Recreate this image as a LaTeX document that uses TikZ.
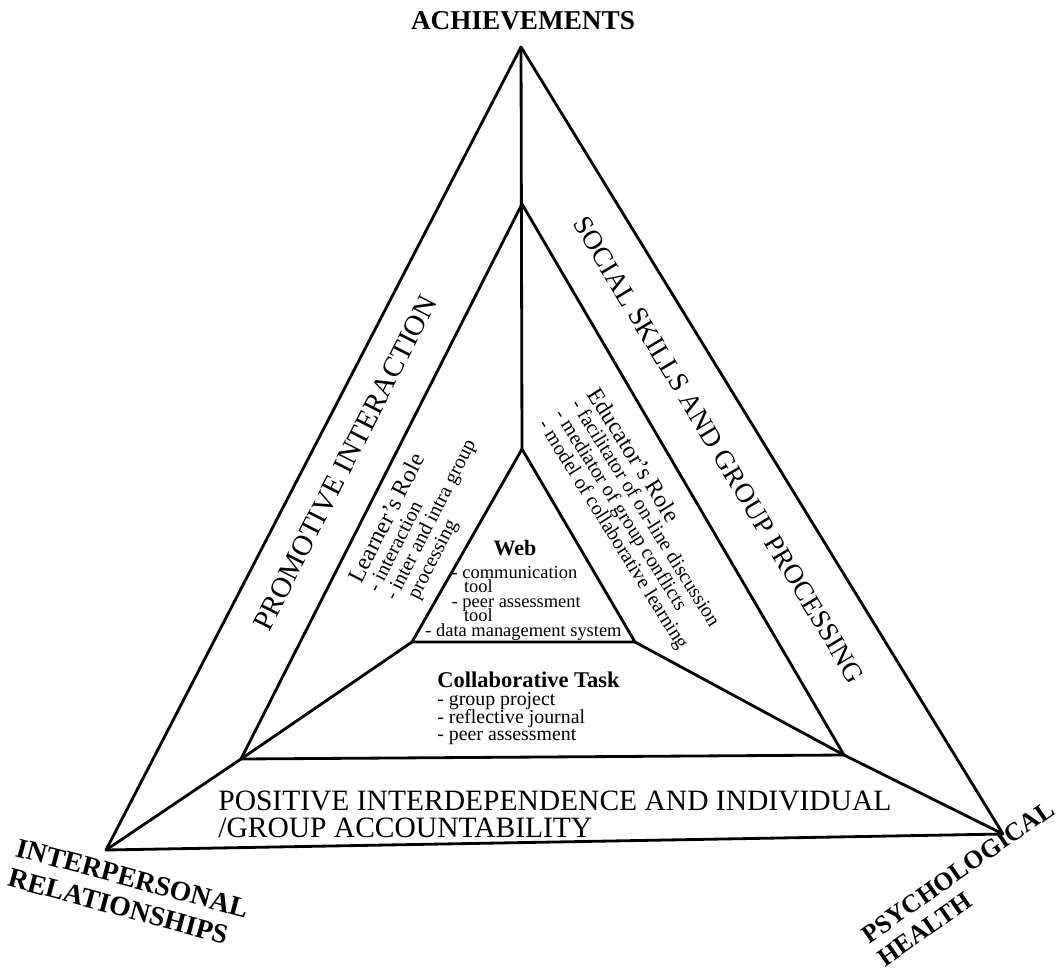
\documentclass[tikz,border=0pt]{standalone}
\usepackage{fontspec}
\setmainfont{Liberation Serif}
\usetikzlibrary{positioning}
\definecolor{Ink}{HTML}{000000}
\tikzset{
  edge/.style={draw=Ink, line width=1.6pt, line join=round},
  corner/.style={inner sep=0pt, align=left, text=Ink, font={\fontsize{15}{17.5}\selectfont\bfseries}},
  band/.style={inner sep=0pt, align=left, text=Ink, font={\fontsize{16.8}{15}\selectfont}},
  role/.style={inner sep=0pt, align=left, text=Ink, font={\fontsize{11.5}{11}\selectfont\lineskiplimit=-20pt}},
  toollist/.style={inner sep=0pt, align=left, text=Ink, font={\fontsize{10.5}{8.2}\selectfont\lineskiplimit=-20pt}},
}
\newcommand{\rolehead}[1]{{\fontsize{13.5}{12}\selectfont #1}}
\begin{document}
\begin{tikzpicture}[x=0.02cm, y=-0.02cm]
  \useasboundingbox (0,0) rectangle (1062,974);
  % triangle corners
  \coordinate (A) at (521,47);
  \coordinate (B) at (106,850);
  \coordinate (C) at (1003,834);
  \coordinate (M1) at (522,204);
  \coordinate (M2) at (241,759);
  \coordinate (M3) at (844,755);
  \coordinate (W1) at (522,449);
  \coordinate (W2) at (412,642);
  \coordinate (W3) at (635,642);
  % frames
  \draw[edge] (A) -- (B) -- (C) -- cycle;
  \draw[edge] (M1) -- (M2) -- (M3) -- cycle;
  \draw[edge] (W1) -- (W2) -- (W3) -- cycle;
  \draw[edge] (A) -- (W1);
  \draw[edge] (B) -- (M2) -- (W2);
  \draw[edge] (C) -- (M3) -- (W3);
  % outcomes
  \node[corner, font={\fontsize{15.5}{17}\selectfont\bfseries}] (achieve) at (523,21) {ACHIEVEMENTS};
  \node[corner, font={\fontsize{15.8}{17.5}\selectfont\bfseries}, rotate=-15, anchor=north west] (interp) at (19,838) {INTERPERSONAL\\RELATIONSHIPS};
  \node[corner, font={\fontsize{14.6}{16}\selectfont\bfseries}, rotate=35, anchor=north west] (psych) at (859,930) {PSYCHOLOGICAL\\HEALTH};
  % elements
  \node[band, font={\fontsize{16.5}{15}\selectfont}, rotate=63] (promo) at (345,463) {PROMOTIVE INTERACTION};
  \node[band, font={\fontsize{15.6}{15}\selectfont}, rotate=-59] (social) at (719,450) {SOCIAL SKILLS AND GROUP PROCESSING};
  \node[band, anchor=north west] (posit) at (218,791) {POSITIVE INTERDEPENDENCE AND INDIVIDUAL\\/GROUP ACCOUNTABILITY};
  % roles
  \node[role, rotate=63, anchor=north west] (learner) at (346,577)
    {\rolehead{Learner's Role}\\- interaction\\- inter and intra group\\\phantom{- }processing};
  \node[role, rotate=-58, anchor=north west] (educator) at (601,385)
    {\rolehead{Educator's Role}\\- facilitator of on-line discussion\\- mediator of group conflicts\\- model of collaborative learning};
  % web and task
  \node[font={\fontsize{12.5}{13}\selectfont\bfseries}, inner sep=0pt] (web) at (515,548) {Web};
  \node[toollist, anchor=north west] (webtools) at (425,566)
    {\hspace*{15pt}- communication\\\hspace*{22pt}tool\\\hspace*{15pt}- peer assessment\\\hspace*{22pt}tool\\- data management system};
  \node[role, font={\fontsize{11.3}{10}\selectfont\lineskiplimit=-20pt}, anchor=north west] (task) at (437,672)
    {{\fontsize{12.8}{12}\selectfont\bfseries Collaborative Task}\\- group project\\- reflective journal\\- peer assessment};
\end{tikzpicture}
\end{document}
